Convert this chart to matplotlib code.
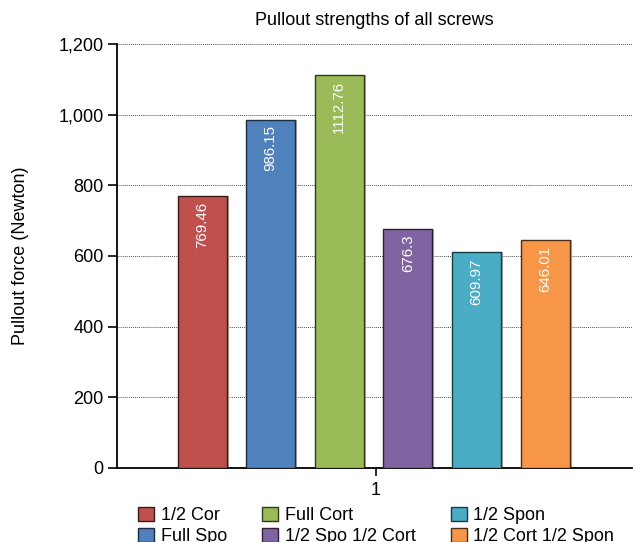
import matplotlib
matplotlib.use("Agg")
import matplotlib.pyplot as plt
from matplotlib.ticker import FuncFormatter

plt.rcParams['font.family'] = ['Liberation Sans', 'DejaVu Sans']

categories = ["1/2 Cor", "Full Spo", "Full Cort", "1/2 Spo 1/2 Cort", "1/2 Spon", "1/2 Cort 1/2 Spon"]
values = [769.46, 986.15, 1112.76, 676.3, 609.97, 646.01]
value_labels = ["769.46", "986.15", "1112.76", "676.3", "609.97", "646.01"]
colors = ["#C0504D", "#4F81BD", "#9BBB59", "#8064A2", "#4BACC6", "#F79646"]
edges = ["#3a1a19", "#1b2b40", "#2f3a1b", "#2a2136", "#173a44", "#4a2d14"]
group_label = "1"
yticks = [0, 200, 400, 600, 800, 1000, 1200]

fig = plt.figure(figsize=(6.37, 5.42), dpi=100)
ax = fig.add_axes([117/637, 1 - 468/542, (632-117)/637, (468-44)/542])

width = 0.1
step = 0.14
n = len(values)
center = 0.995
handles = []
for i, (c, v, col, ec, lab) in enumerate(zip(categories, values, colors, edges, value_labels)):
    x = center + (i - (n - 1) / 2) * step
    ax.bar(x + 0.004, v, width, color="#b0b0b0", zorder=2, linewidth=0)
    b = ax.bar(x, v, width, color=col, edgecolor=ec, linewidth=1.0, zorder=3, label=c)
    handles.append(b)
    ax.text(x, v - 16, lab, rotation=90, ha="center", va="top", color="white",
            fontsize=10.8, zorder=4)

ax.set_xlim(1 - 259/490, 1 + 256/490)
ax.set_ylim(0, 1200)
ax.set_yticks(yticks)
ax.yaxis.set_major_formatter(FuncFormatter(lambda v, p: f"{int(v):,}"))
ax.set_xticks([1])
ax.set_xticklabels([group_label])
ax.tick_params(axis="y", direction="out", length=6.5, width=1.2, labelsize=13, pad=3)
ax.tick_params(axis="x", direction="out", length=6, width=1.2, labelsize=13, pad=4)
ax.spines["top"].set_visible(False)
ax.spines["right"].set_visible(False)
ax.spines["left"].set_linewidth(1.3)
ax.spines["bottom"].set_linewidth(1.3)
ax.yaxis.grid(True, linestyle=(0, (1, 1)), color="#555555", linewidth=0.7, zorder=0)
ax.set_axisbelow(True)

ax.set_title("Pullout strengths of all screws", fontsize=13, pad=14)
ax.set_ylabel("Pullout force (Newton)", fontsize=13)
ax.yaxis.set_label_coords(-0.171, 0.5)

fig.legend(handles=handles, labels=categories, ncol=3, loc="upper left",
           bbox_to_anchor=(138/637, 1 - 507/542), frameon=False, fontsize=13,
           handlelength=0.9, handleheight=0.8, handletextpad=0.35,
           columnspacing=1.95, labelspacing=0.2, borderaxespad=0, borderpad=0)

fig.savefig("out.png", dpi=100)
